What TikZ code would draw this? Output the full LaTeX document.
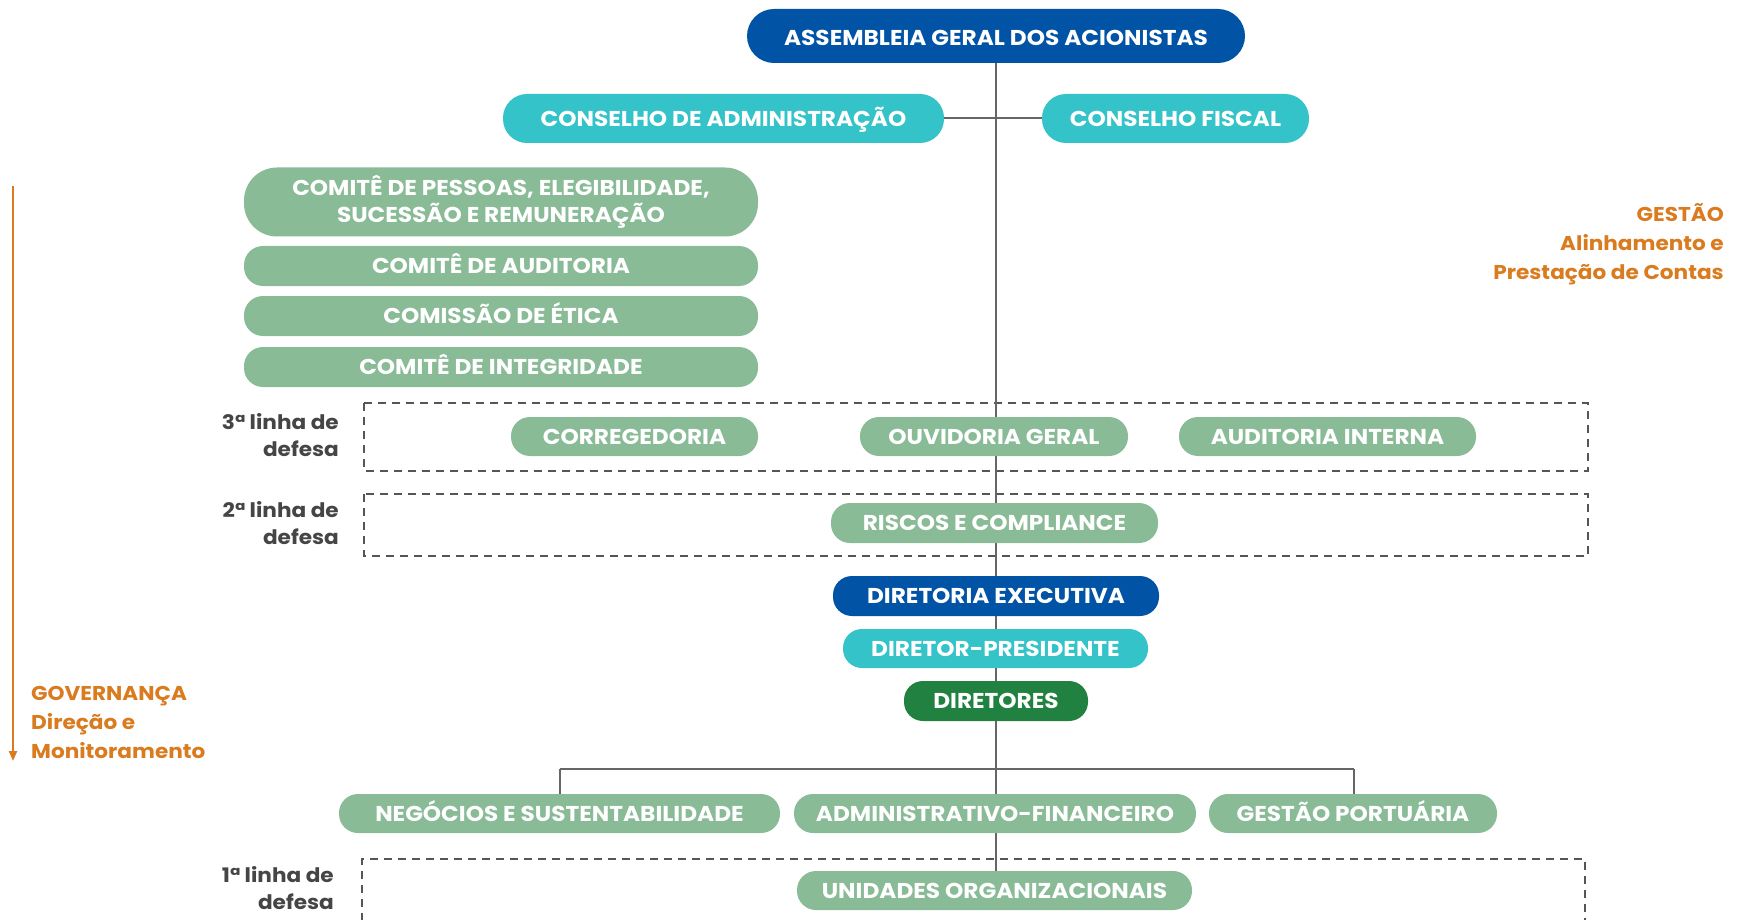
\documentclass[tikz,border=0pt]{standalone}
\usepackage{fontspec}
\setmainfont{Poppins}[FakeStretch=1.08]
\usetikzlibrary{arrows.meta}
\definecolor{dblue}{HTML}{0153A5}
\definecolor{teal}{HTML}{33C3C8}
\definecolor{sage}{HTML}{88BB96}
\definecolor{dgreen}{HTML}{218140}
\definecolor{orng}{HTML}{D97B1E}
\definecolor{gtext}{HTML}{454545}
\definecolor{lgray}{HTML}{666666}
\definecolor{dgray}{HTML}{555555}
\tikzset{
  pillbase/.style={rounded corners=19pt, inner sep=0pt, text=white,
    font=\fontsize{21.5}{24}\selectfont\bfseries, align=center},
  pill/.style={pillbase, text height=15pt, text depth=0pt},
  conn/.style={draw=lgray, line width=2pt},
  dbox/.style={draw=dgray, line width=2pt, dash pattern=on 8pt off 6pt},
  glabel/.style={text=gtext, font=\fontsize{20}{27}\selectfont\bfseries, align=right, anchor=east, inner sep=0pt},
  olabel/.style={text=orng, font=\fontsize{20}{29}\selectfont\bfseries, inner sep=0pt},
}
\begin{document}
\begin{tikzpicture}[x=1pt,y=-1pt]
\useasboundingbox (0,0) rectangle (1738,920);
% dashed boxes
\draw[dbox] (364,403) rectangle (1588,471);
\draw[dbox] (364,494) rectangle (1588,556);
\draw[dbox] (362,935) -- (362,859) -- (1585,859) -- (1585,935);
% nodes
\node[pill, fill=dblue, minimum width=498pt, minimum height=54pt, rounded corners=27pt, text height=18.5pt] (assem) at (996,36) {ASSEMBLEIA GERAL DOS ACIONISTAS};
\node[pill, fill=teal, minimum width=441pt, minimum height=49pt, rounded corners=24pt, text height=17pt] (cadm) at (723.5,118.5) {CONSELHO DE ADMINISTRAÇÃO};
\node[pill, fill=teal, minimum width=267pt, minimum height=49pt, rounded corners=24pt, text height=17pt] (cfis) at (1175.5,118.5) {CONSELHO FISCAL};
\node[pillbase, fill=sage, minimum width=514pt, minimum height=69pt, rounded corners=33pt] (cpes) at (501,202) {COMITÊ DE PESSOAS, ELEGIBILIDADE,\\[2.5pt]SUCESSÃO E REMUNERAÇÃO};
\node[pill, fill=sage, minimum width=514pt, minimum height=40pt] (caud) at (501,266) {COMITÊ DE AUDITORIA};
\node[pill, fill=sage, minimum width=514pt, minimum height=40pt] (cet) at (501,316) {COMISSÃO DE ÉTICA};
\node[pill, fill=sage, minimum width=514pt, minimum height=40pt] (cint) at (501,367) {COMITÊ DE INTEGRIDADE};
% connectors (behind the later pills)
\coordinate (trunkend) at (996,871);
\draw[conn] (assem.south) -- (trunkend);
\draw[conn] (cadm.east) -- (cfis.west);
\coordinate (hl) at (560,769);
\coordinate (hr) at (1354,769);
\draw[conn] (hl) -- (hr);
\node[pill, fill=sage, minimum width=247pt, minimum height=39pt] (corr) at (634.5,436.5) {CORREGEDORIA};
\node[pill, fill=sage, minimum width=268pt, minimum height=39pt] (ouv) at (994,436.5) {OUVIDORIA GERAL};
\node[pill, fill=sage, minimum width=297pt, minimum height=39pt] (audi) at (1327.5,436.5) {AUDITORIA INTERNA};
\node[pill, fill=sage, minimum width=327pt, minimum height=40pt] (risc) at (994.5,523) {RISCOS E COMPLIANCE};
\node[pill, fill=dblue, minimum width=326pt, minimum height=40pt] (direx) at (996,596) {DIRETORIA EXECUTIVA};
\node[pill, fill=teal, minimum width=305pt, minimum height=39pt] (dirp) at (995.5,648.5) {DIRETOR-PRESIDENTE};
\node[pill, fill=dgreen, minimum width=184pt, minimum height=40pt] (dirs) at (996,701) {DIRETORES};
\node[pill, fill=sage, minimum width=441pt, minimum height=39pt] (neg) at (559.5,813.5) {NEGÓCIOS E SUSTENTABILIDADE};
\node[pill, fill=sage, minimum width=402pt, minimum height=39pt] (adm) at (995,813.5) {ADMINISTRATIVO-FINANCEIRO};
\node[pill, fill=sage, minimum width=288pt, minimum height=39pt] (gp) at (1353,813.5) {GESTÃO PORTUÁRIA};
\node[pill, fill=sage, minimum width=395pt, minimum height=39pt] (unid) at (994.5,890.5) {UNIDADES ORGANIZACIONAIS};
\draw[conn] (hl) -- (neg.north -| hl);
\draw[conn] (hr) -- (gp.north -| hr);
% side labels
\node[glabel] (l3) at (339,435.5) {3ª linha de\\defesa};
\node[glabel] (l2) at (339,523) {2ª linha de\\defesa};
\node[glabel] (l1) at (334,888) {1ª linha de\\defesa};
\node[olabel, anchor=west, align=left] (gov) at (31,722) {GOVERNANÇA\\Direção e\\Monitoramento};
\node[olabel, anchor=east, align=right] (ges) at (1724,244) {GESTÃO\\Alinhamento e\\Prestação de Contas};
\coordinate (ga) at (13,186);
\coordinate (gb) at (13,761);
\draw[orng, line width=2.2pt, -{Triangle[length=10pt,width=8pt]}] (ga) -- (gb);
\end{tikzpicture}
\end{document}
